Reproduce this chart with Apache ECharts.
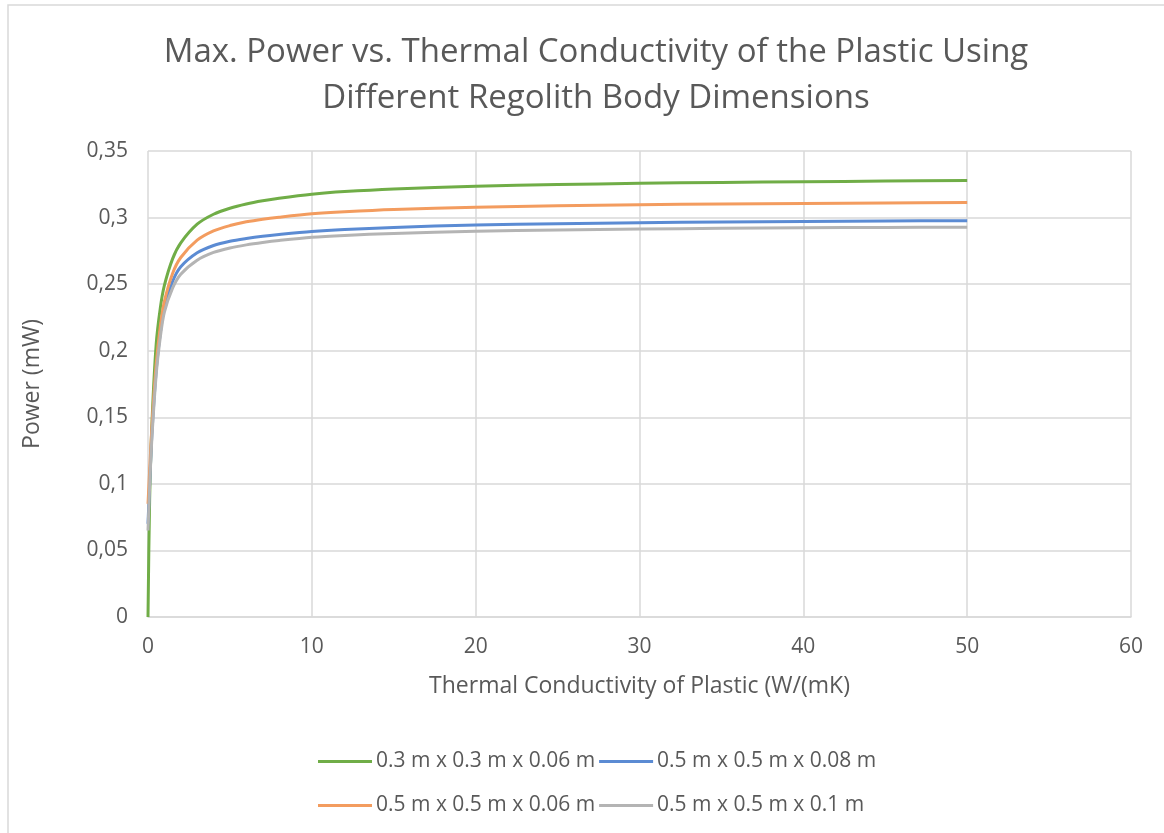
<!DOCTYPE html>
<html>
<head>
<meta charset="utf-8">
<script src="https://cdn.jsdelivr.net/npm/echarts@6/dist/echarts.min.js"></script>
<style>
  html, body { margin: 0; padding: 0; background: #fff; }
  #chart { width: 1164px; height: 833px; }
</style>
</head>
<body>
<div id="chart"></div>
<script>
// thermal conductivity of plastic, W/(mK)
const conductivity = [0, 0.1, 0.25, 0.5, 0.75, 1, 1.5, 2, 3, 4, 5, 6, 7, 8, 10, 12, 15, 20, 25, 30, 35, 40, 45, 50];

// max power (mW) per regolith body size
const power03x03x006 = [0, 0.088, 0.148, 0.205, 0.232, 0.249, 0.269, 0.281, 0.295, 0.3025, 0.3070, 0.3102, 0.3126, 0.3145, 0.3175, 0.3195, 0.3215, 0.3236, 0.3248, 0.3257, 0.3264, 0.3269, 0.3274, 0.3278];
const power05x05x008 = [0.07, 0.100, 0.140, 0.185, 0.213, 0.233, 0.252, 0.263, 0.2735, 0.2790, 0.2822, 0.2843, 0.2860, 0.2873, 0.2895, 0.2910, 0.2926, 0.2944, 0.2954, 0.2961, 0.2967, 0.2971, 0.2974, 0.2977];
const power05x05x006 = [0.085, 0.110, 0.146, 0.190, 0.218, 0.237, 0.258, 0.270, 0.283, 0.2900, 0.2940, 0.2968, 0.2988, 0.3003, 0.3028, 0.3044, 0.3061, 0.3077, 0.3088, 0.3096, 0.3102, 0.3106, 0.3110, 0.3113];
const power05x05x01 = [0.065, 0.098, 0.137, 0.182, 0.210, 0.229, 0.247, 0.2575, 0.268, 0.2738, 0.2772, 0.2795, 0.2813, 0.2828, 0.2852, 0.2866, 0.2881, 0.2897, 0.2907, 0.2914, 0.2919, 0.2923, 0.2926, 0.2928];

const seriesNames = ['0.3 m x 0.3 m x 0.06 m', '0.5 m x 0.5 m x 0.08 m', '0.5 m x 0.5 m x 0.06 m', '0.5 m x 0.5 m x 0.1 m'];
const seriesColors = ['#70AD47', '#5B8BD3', '#F39C5F', '#B4B4B4'];
const seriesValues = [power03x03x006, power05x05x008, power05x05x006, power05x05x01];

const yTicks = ['0', '0,05', '0,1', '0,15', '0,2', '0,25', '0,3', '0,35'];

const chart = echarts.init(document.getElementById('chart'));
const font = '"Open Sans", sans-serif';
const textColor = '#595959';

const legendBase = {
  icon: 'rect',
  itemWidth: 54,
  itemHeight: 3,
  itemGap: 4,
  orient: 'horizontal',
  textStyle: { fontFamily: font, fontSize: 21, color: textColor, padding: [0, 0, 0, -1] }
};

const option = {
  backgroundColor: '#fff',
  animation: false,
  title: {
    text: 'Max. Power vs. Thermal Conductivity of the Plastic Using\nDifferent Regolith Body Dimensions',
    left: 591,
    textAlign: 'center',
    top: 25,
    textStyle: {
      fontFamily: font,
      fontSize: 33,
      fontWeight: 'normal',
      color: textColor,
      lineHeight: 46
    }
  },
  graphic: [{
    type: 'rect',
    shape: { x: 8, y: 5, width: 1200, height: 900 },
    style: { fill: 'none', stroke: '#d9d9d9', lineWidth: 1.5 },
    silent: true
  }],
  legend: [
    Object.assign({}, legendBase, { left: 313, top: 746, data: [seriesNames[0], seriesNames[1]] }),
    Object.assign({}, legendBase, { left: 313, top: 790, data: [seriesNames[2], seriesNames[3]] })
  ],
  grid: { left: 148, right: 33, top: 151, bottom: 216, containLabel: false },
  xAxis: {
    type: 'value',
    min: 0,
    max: 60,
    interval: 10,
    name: 'Thermal Conductivity of Plastic (W/(mK)',
    nameLocation: 'middle',
    nameGap: 58,
    nameTextStyle: { fontFamily: font, fontSize: 23, color: textColor },
    axisLine: { show: true, lineStyle: { color: '#d9d9d9', width: 1.5 } },
    axisTick: { show: false },
    axisLabel: { fontFamily: font, fontSize: 21, color: textColor, margin: 20 },
    splitLine: { show: true, lineStyle: { color: '#d9d9d9', width: 1.5 } }
  },
  yAxis: {
    type: 'value',
    min: 0,
    max: 0.35,
    interval: 0.05,
    name: 'Power (mW)',
    nameLocation: 'middle',
    nameGap: 104,
    nameTextStyle: { fontFamily: font, fontSize: 23, color: textColor },
    axisLine: { show: false },
    axisTick: { show: false },
    axisLabel: {
      fontFamily: font,
      fontSize: 21,
      color: textColor,
      margin: 20,
      formatter: (v) => yTicks[Math.round(v / 0.05)]
    },
    splitLine: { show: true, lineStyle: { color: '#d9d9d9', width: 1.5 } }
  },
  series: seriesNames.map((name, i) => ({
    name: name,
    type: 'line',
    smooth: 0.3,
    showSymbol: false,
    symbol: 'none',
    color: seriesColors[i],
    lineStyle: { color: seriesColors[i], width: 3 },
    data: conductivity.map((x, j) => [x, seriesValues[i][j]])
  }))
};

chart.setOption(option);
</script>
</body>
</html>
